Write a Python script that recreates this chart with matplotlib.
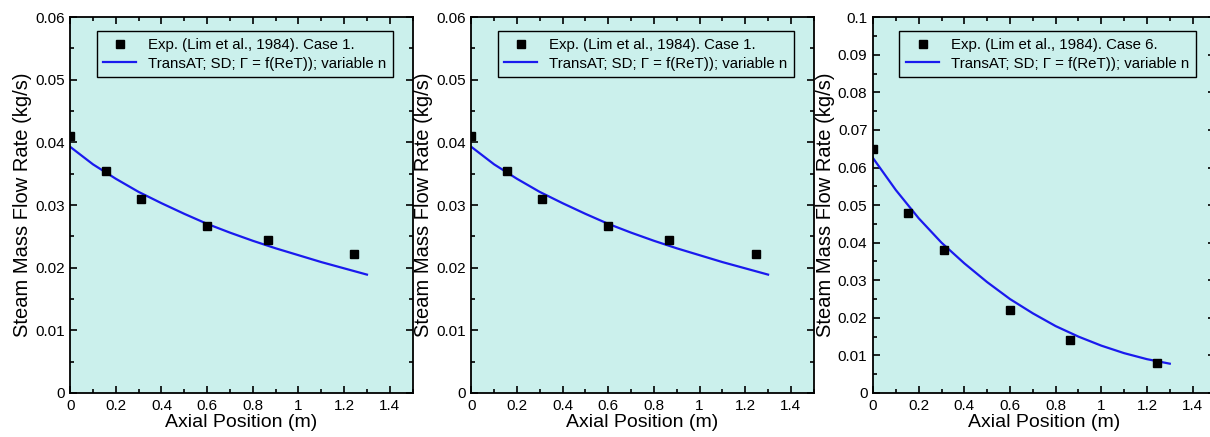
import numpy as np
import matplotlib.pyplot as plt
from matplotlib.ticker import MultipleLocator

plt.rcParams['font.family'] = ['Liberation Sans', 'DejaVu Sans']

# experimental points (Lim et al., 1984)
exp_x = [0.0, 0.155, 0.31, 0.6, 0.865, 1.245]
case1_y = [0.041, 0.0355, 0.031, 0.0267, 0.0244, 0.0222]
case6_y = [0.065, 0.048, 0.038, 0.022, 0.014, 0.008]

# TransAT curves
sim_x = [0.0, 0.1, 0.2, 0.3, 0.4, 0.5, 0.6, 0.7, 0.8, 0.9, 1.0, 1.1, 1.2, 1.3]
case1_sim = [0.0393, 0.0365, 0.0342, 0.0321, 0.0303, 0.0286, 0.0270,
             0.0256, 0.0243, 0.0231, 0.0220, 0.0209, 0.0199, 0.0189]
case6_sim = [0.0625, 0.0540, 0.0465, 0.0400, 0.0345, 0.0295, 0.0250,
             0.0212, 0.0178, 0.0150, 0.0126, 0.0106, 0.0090, 0.0078]

panels = [
    (case1_y, case1_sim, 'Case 1.', 0.06),
    (case1_y, case1_sim, 'Case 1.', 0.06),
    (case6_y, case6_sim, 'Case 6.', 0.1),
]
lefts = [0.058, 0.3895, 0.7215]
bg = '#cbf0ec'

fig = plt.figure(figsize=(12.1, 4.37), dpi=100)
for left, (ey, sy, case, ymax) in zip(lefts, panels):
    ax = fig.add_axes([left, 0.1007, 0.283, 0.860])
    ax.set_facecolor(bg)
    ax.plot(sim_x, sy, color='#1a1aee', lw=1.6,
            label='TransAT; SD; Γ = f(ReT)); variable n')
    ax.plot(exp_x, ey, 's', color='black', ms=6,
            label='Exp. (Lim et al., 1984). ' + case)
    ax.set_xlim(0, 1.5)
    ax.set_ylim(0, ymax)
    ax.xaxis.set_major_locator(MultipleLocator(0.2))
    ax.xaxis.set_minor_locator(MultipleLocator(0.1))
    ax.yaxis.set_major_locator(MultipleLocator(0.01))
    ax.yaxis.set_minor_locator(MultipleLocator(0.005))
    fmt = plt.FuncFormatter(lambda v, p: '%g' % round(v, 3))
    ax.xaxis.set_major_formatter(fmt)
    ax.yaxis.set_major_formatter(fmt)
    ax.tick_params(which='both', direction='in', top=True, right=True,
                   labelsize=11, width=1.2)
    ax.tick_params(which='major', length=5, pad=4)
    ax.tick_params(which='minor', length=3)
    for sp in ax.spines.values():
        sp.set_linewidth(1.3)
    ax.set_xlabel('Axial Position (m)', fontsize=14, labelpad=1)
    ax.set_ylabel('Steam Mass Flow Rate (kg/s)', fontsize=14.5, labelpad=2)
    h, l = ax.get_legend_handles_labels()
    leg = ax.legend(h[::-1], l[::-1], loc='upper left', bbox_to_anchor=(0.077, 0.962),
                    fontsize=10.8, frameon=True, fancybox=False, edgecolor='black',
                    handlelength=2.2, borderpad=0.45, labelspacing=0.3,
                    handletextpad=0.8, borderaxespad=0)
    leg.get_frame().set_facecolor(bg)
    leg.get_frame().set_alpha(1)
    leg.get_frame().set_linewidth(1.0)

fig.savefig('out.png', dpi=100)
